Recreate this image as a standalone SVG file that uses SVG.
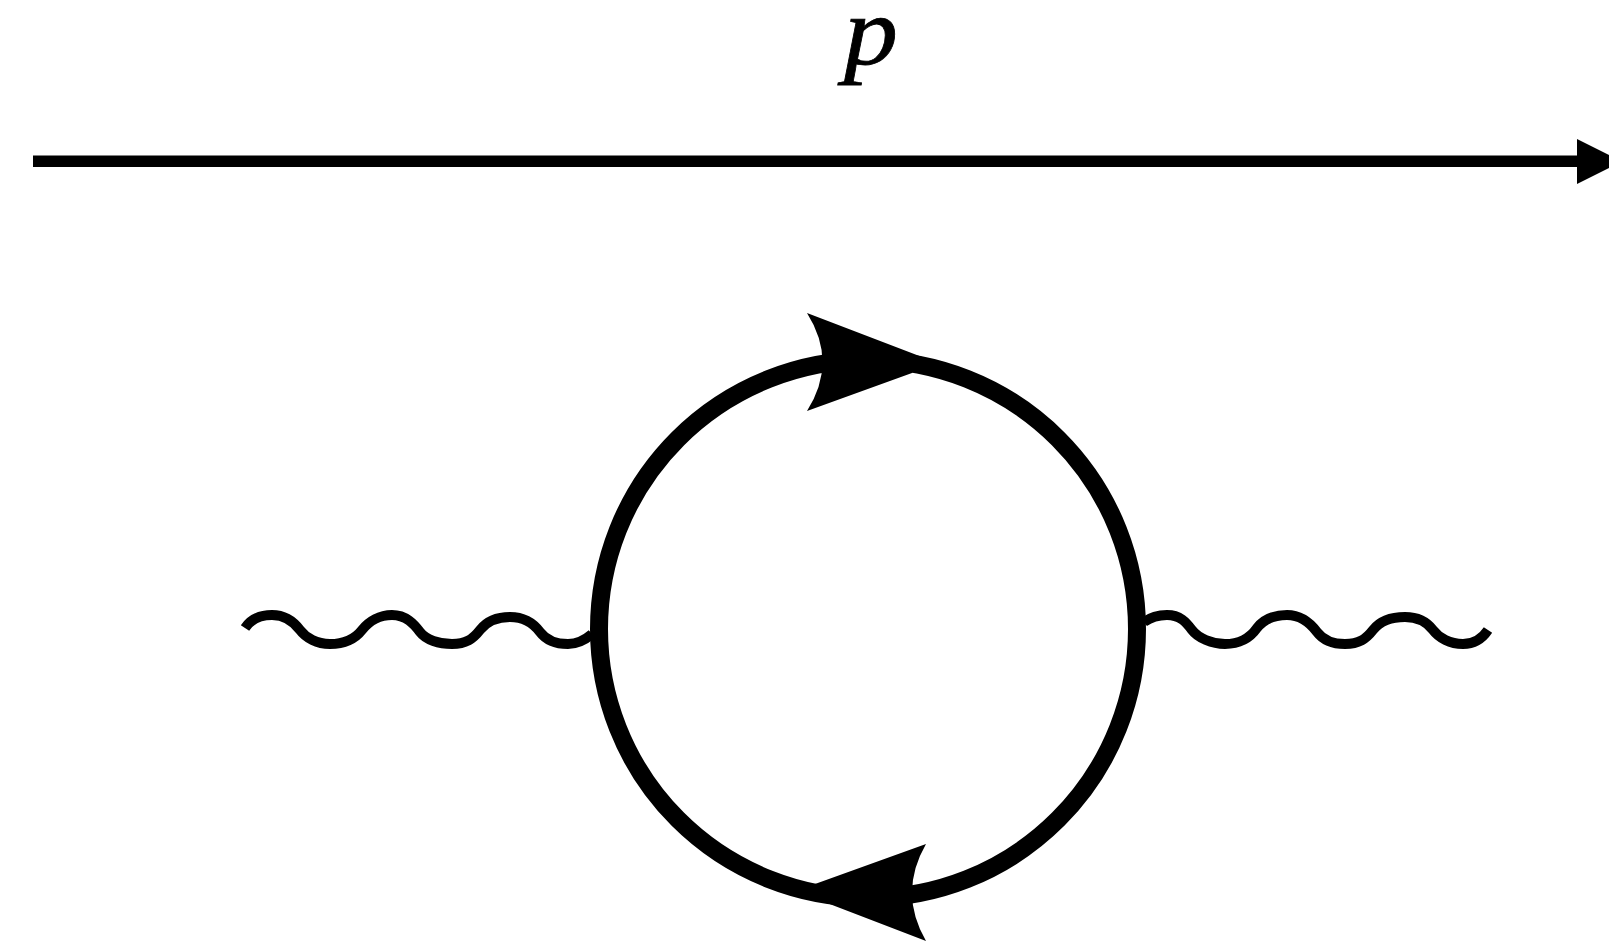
<svg xmlns="http://www.w3.org/2000/svg" width="1609" height="945" viewBox="0 0 1609 945">
<style>
.w{fill:none;stroke:#000;stroke-width:10}
.f{fill:#000;stroke:none}
.t{font-family:"Liberation Serif",serif;font-style:italic;font-size:100px;fill:#000;stroke:#000;stroke-width:.8}
</style>
<rect width="1609" height="945" fill="#fff"/>
<g id="connectors">
<rect id="momentum-line" class="f" x="33" y="155.500" width="1546" height="11.500"/>
<path id="momentum-arrow" class="f" d="M1577 139L1622 161.500L1577 184Z"/>
<path id="photon-left" class="w" d="M245 628C251 619 261 615 272 615C286 615 294 622 300 630C306 638 317 644 330 644C344 644 355 639 362 630C369 621 380 615 392 615C406 615 414 624 420 632C426 640 439 644 452 644C466 644 473 639 480 630C487 621 497 617 510 617C524 617 534 624 540 632C546 640 556 644 568 644C578 644 585 640 592 634"/>
<path id="photon-right" class="w" d="M1144 622C1151 617 1158 615 1167 615C1180 615 1186 622 1192 630C1198 638 1212 644 1225 644C1239 644 1250 638 1257 628C1264 619 1275 615 1287 615C1301 615 1311 624 1317 632C1323 640 1332 644 1345 644C1359 644 1366 639 1373 630C1380 621 1391 617 1405 617C1419 617 1427 622 1433 630C1439 638 1450 644 1463 644C1474 644 1482 639 1488 630"/>
</g>
<g id="loop">
<circle class="ring" cx="868" cy="629" r="269" fill="none" stroke="#000" stroke-width="18"/>
<path id="arrow-top" class="f" d="M807 313L922 357L912 373L807 411Q838 362 807 313Z"/>
<path id="arrow-bottom" class="f" d="M926 844L815 884L812 899L827 903L926 941Q898 892.500 926 844Z"/>
</g>
<g id="label-p">
<text class="t" transform="translate(844 64) scale(1.08 .98)">p</text>
</g>
</svg>
